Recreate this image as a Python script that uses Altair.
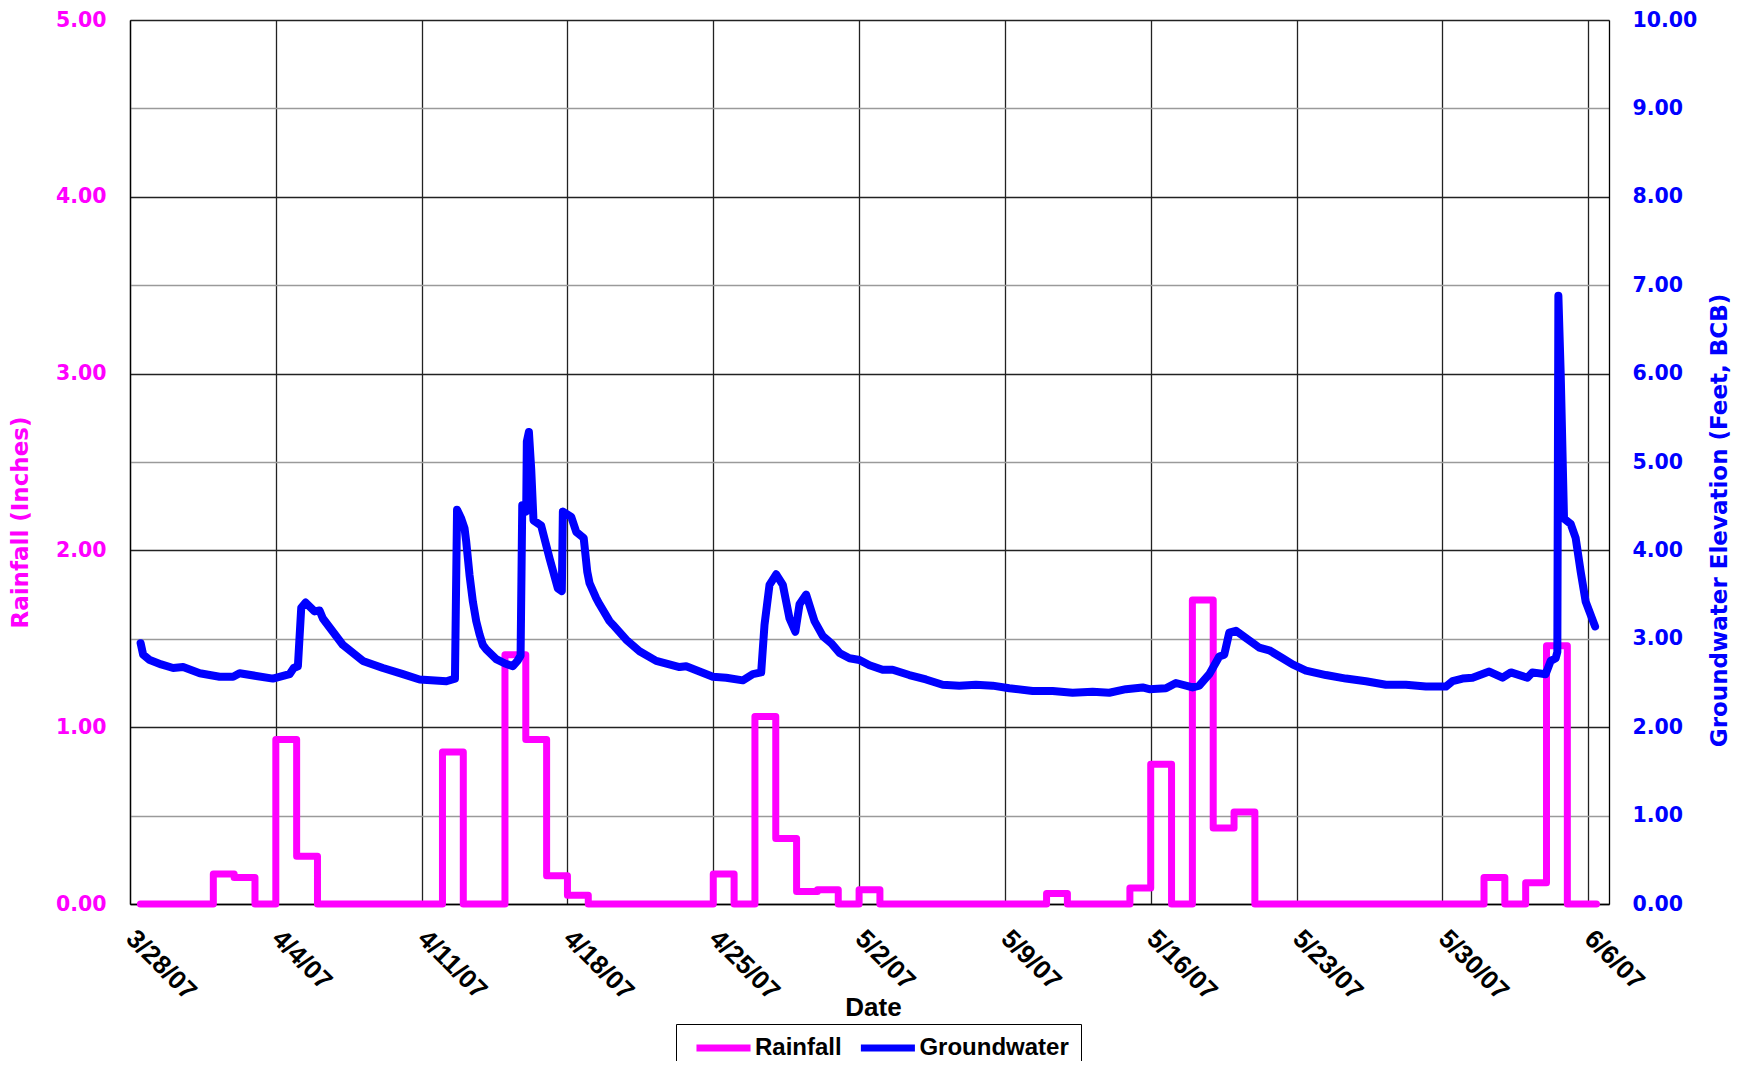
import altair as alt
import pandas as pd

# ---------------- data (day offsets from 3/28/07) ----------------
rain_day = [0.5, 4, 5, 6, 7, 8, 9, 15, 16, 18, 19, 20, 21, 22, 28, 29, 30, 31, 32, 33,
            34, 35, 36, 44, 45, 48, 49, 50, 51, 52, 53, 54, 65, 66, 67, 68, 69, 70.4]
rain_in = [0, 0.17, 0.15, 0, 0.93, 0.27, 0, 0.86, 0, 1.41, 0.93, 0.16, 0.05, 0, 0.17, 0,
           1.06, 0.37, 0.07, 0.08, 0, 0.08, 0, 0.06, 0, 0.09, 0.79, 0, 1.72, 0.43, 0.52, 0,
           0.15, 0, 0.12, 1.46, 0, 0]

gw_day = [0.51, 0.63, 0.95, 1.5, 2.07, 2.55, 3.35, 4.3, 4.95, 5.26, 6.06, 6.86, 7.66, 7.86,
          8.06, 8.22, 8.43, 8.86, 9.1, 9.26, 10.22, 11.18, 12.14, 13.1, 13.9, 15.19, 15.6,
          15.7, 15.9, 16.06, 16.14, 16.3, 16.46, 16.62, 16.78, 16.94, 17.1, 17.58, 18.0,
          18.38, 18.6, 18.75, 18.83, 19.02, 19.05, 19.15, 19.26, 19.37, 19.74, 20.14, 20.54,
          20.73, 20.78, 21.18, 21.42, 21.78, 21.95, 22.06, 22.38, 22.54, 23.02, 23.18, 23.82,
          24.46, 25.26, 26.38, 26.7, 27.34, 27.98, 28.62, 29.42, 29.9, 30.3, 30.46, 30.7,
          31.02, 31.34, 31.66, 31.94, 32.14, 32.46, 32.86, 33.26, 33.66, 34.06, 34.54, 35.02,
          35.5, 36.13, 36.61, 37.41, 38.21, 39.01, 39.81, 40.61, 41.41, 42.21, 43.33, 44.29,
          45.25, 46.21, 47.01, 47.81, 48.61, 48.93, 49.73, 50.21, 51.01, 51.33, 51.81, 52.29,
          52.53, 52.77, 53.09, 53.57, 54.21, 54.69, 55.33, 55.81, 56.45, 57.41, 58.37, 59.33,
          60.29, 61.25, 62.21, 63.17, 63.49, 63.97, 64.45, 65.25, 65.89, 66.29, 67.08, 67.32,
          67.96, 68.2, 68.44, 68.52, 68.57, 68.68, 68.84, 69.16, 69.4, 69.64, 69.88, 70.33]
gw_ft = [2.95, 2.82, 2.76, 2.71, 2.67, 2.68, 2.61, 2.57, 2.57, 2.61, 2.58, 2.55, 2.60, 2.67,
         2.69, 3.35, 3.41, 3.31, 3.32, 3.23, 2.93, 2.75, 2.67, 2.60, 2.54, 2.52, 2.55,
         4.46, 4.36, 4.25, 4.10, 3.72, 3.42, 3.20, 3.05, 2.93, 2.88, 2.77, 2.72,
         2.69, 2.75, 2.81, 4.51, 4.44, 5.23, 5.34, 4.92, 4.34, 4.28, 3.91, 3.57,
         3.54, 4.44, 4.38, 4.21, 4.14, 3.76, 3.63, 3.46, 3.39, 3.20, 3.16, 2.99,
         2.86, 2.75, 2.68, 2.69, 2.63, 2.57, 2.56, 2.53, 2.60, 2.62, 3.16, 3.61,
         3.73, 3.61, 3.23, 3.08, 3.39, 3.50, 3.20, 3.03, 2.95, 2.84, 2.78, 2.76,
         2.70, 2.65, 2.65, 2.59, 2.54, 2.48, 2.47, 2.48, 2.47, 2.44, 2.41, 2.41,
         2.39, 2.40, 2.39, 2.43, 2.45, 2.43, 2.44, 2.50, 2.45, 2.47, 2.60, 2.80,
         2.82, 3.07, 3.09, 3.01, 2.90, 2.87, 2.78, 2.71, 2.64, 2.59, 2.55, 2.52,
         2.48, 2.48, 2.46, 2.46, 2.52, 2.55, 2.56, 2.63, 2.56, 2.62, 2.56, 2.62,
         2.60, 2.75, 2.78, 2.85, 6.88, 6.01, 4.36, 4.30, 4.14, 3.76, 3.42, 3.14]

tick_md = [(3, 28), (4, 4), (4, 11), (4, 18), (4, 25), (5, 2), (5, 9), (5, 16), (5, 23),
           (5, 30), (6, 6)]
series_names = ["Rainfall", "Groundwater"]
series_colors = ["#FF00FF", "#0000FF"]

# ---------------- build tables ----------------
base = pd.Timestamp("2007-03-28")


def to_iso(days):
    return [(base + pd.to_timedelta(d, unit="D")).strftime("%Y-%m-%dT%H:%M:%S") for d in days]


rain_df = pd.DataFrame({"t": to_iso(rain_day), "v": rain_in, "series": "Rainfall"})
gw_df = pd.DataFrame({"t": to_iso(gw_day), "v": gw_ft, "series": "Groundwater"})

FONT = "Liberation Sans"
YFONT = "DejaVu Sans"
W, H = 1479, 884

x_enc = alt.X(
    "t:T",
    scale=alt.Scale(domain=[alt.DateTime(year=2007, month=3, date=28),
                            alt.DateTime(year=2007, month=6, date=7)]),
    axis=alt.Axis(
        values=[alt.DateTime(year=2007, month=m, date=d) for m, d in tick_md],
        format="%-m/%-d/%y", formatType="time",
        labelAngle=45, labelAlign="left", labelBaseline="middle", labelPadding=30,
        labelFont=FONT, labelFontSize=26, labelFontWeight="bold", labelColor="black",
        labelOverlap=False, labelFlush=False, labelBound=False,
        ticks=False, domainColor="black", domainWidth=1.3,
        grid=True, gridColor="#222222", gridWidth=1.3,
        title="Date", titleFont=FONT, titleFontSize=26, titleFontWeight="bold",
        titleColor="black", titleX=743, titleY=103, titleBaseline="middle",
        titleAlign="center", titleAnchor="start",
    ),
)

color_enc = alt.Color(
    "series:N",
    scale=alt.Scale(domain=series_names, range=series_colors),
    legend=alt.Legend(
        orient="none", legendX=546, legendY=1004, direction="horizontal", title=None,
        symbolType="M-3.86,0H3.86", symbolSize=196, symbolStrokeWidth=7, symbolOffset=23.5,
        labelFont=FONT, labelFontSize=24, labelFontWeight="bold", labelColor="black",
        labelOffset=19.5, columnPadding=4.4, padding=12, strokeColor="black",
        fillColor="white", cornerRadius=0, labelLimit=0,
    ),
)

rain = alt.Chart(rain_df).mark_line(
    interpolate="step-after", strokeWidth=7, strokeCap="round", strokeJoin="round"
).encode(
    x=x_enc,
    y=alt.Y(
        "v:Q",
        scale=alt.Scale(domain=[0, 5], nice=False, zero=True),
        axis=alt.Axis(
            orient="left",
            values=[i * 0.5 for i in range(11)],
            labelExpr="datum.value % 1 === 0 ? format(datum.value, '.2f') : ''",
            labelFont=YFONT, labelFontSize=20.5, labelFontWeight="bold", labelColor="#FF00FF",
            labelPadding=24, ticks=False, domainColor="black", domainWidth=1.3,
            grid=True,
            gridColor={"condition": {"test": "datum.value % 1 === 0", "value": "#222222"},
                       "value": "#9a9a9a"},
            gridWidth=1.4,
            title="Rainfall (Inches)", titleFont=YFONT, titleFontSize=23,
            titleFontWeight="bold", titleColor="#FF00FF", titleAngle=270,
            titleX=-110, titleY=502, titleAlign="center", titleBaseline="middle",
            titleAnchor="start",
        ),
    ),
    color=color_enc,
)

gw = alt.Chart(gw_df).mark_line(
    strokeWidth=8, strokeCap="round", strokeJoin="round"
).encode(
    x=x_enc,
    y=alt.Y(
        "v:Q",
        scale=alt.Scale(domain=[0, 10], nice=False, zero=True),
        axis=alt.Axis(
            orient="right",
            values=list(range(11)),
            format=".2f",
            labelFont=YFONT, labelFontSize=20.5, labelFontWeight="bold", labelColor="#0000FF",
            labelPadding=23, ticks=False, domainColor="black", domainWidth=1.3,
            grid=False,
            title="Groundwater Elevation (Feet, BCB)", titleFont=YFONT, titleFontSize=23,
            titleFontWeight="bold", titleColor="#0000FF", titleAngle=270,
            titleX=110, titleY=500, titleAlign="center", titleBaseline="middle",
            titleAnchor="start",
        ),
    ),
    color=color_enc,
)

chart = alt.layer(rain, gw).resolve_scale(y="independent").properties(
    width=W, height=H,
    autosize=alt.AutoSizeParams(type="none"),
    padding={"left": 122, "top": 12, "right": 122, "bottom": 157},
).configure_view(stroke=None).configure(background="white")

chart.save("out.html", embed_options={"renderer": "svg", "actions": False})
